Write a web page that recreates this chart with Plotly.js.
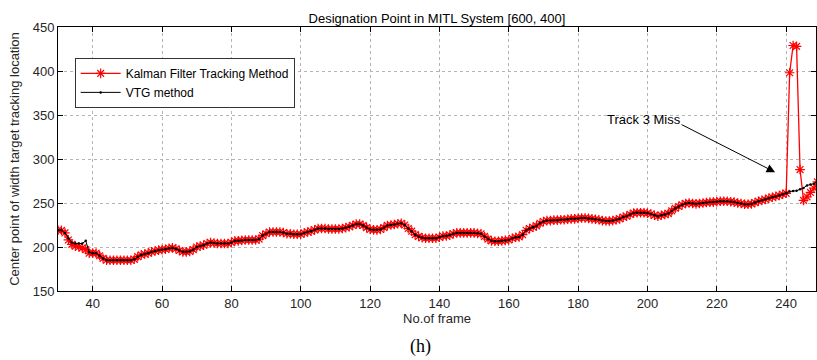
<!DOCTYPE html>
<html>
<head>
<meta charset="utf-8">
<script src="https://cdn.plot.ly/plotly-3.0.1.min.js"></script>
<style>html,body{margin:0;padding:0;background:#fff}#chart{width:817px;height:360px}</style>
</head>
<body>
<div id="chart"></div>
<script>
// frame numbers 30..249
var frames = [30,31,32,33,34,35,36,37,38,39,40,41,42,43,44,45,46,47,48,49,
50,51,52,53,54,55,56,57,58,59,60,61,62,63,64,65,66,67,68,69,
70,71,72,73,74,75,76,77,78,79,80,81,82,83,84,85,86,87,88,89,
90,91,92,93,94,95,96,97,98,99,100,101,102,103,104,105,106,107,108,109,
110,111,112,113,114,115,116,117,118,119,120,121,122,123,124,125,126,127,128,129,
130,131,132,133,134,135,136,137,138,139,140,141,142,143,144,145,146,147,148,149,
150,151,152,153,154,155,156,157,158,159,160,161,162,163,164,165,166,167,168,169,
170,171,172,173,174,175,176,177,178,179,180,181,182,183,184,185,186,187,188,189,
190,191,192,193,194,195,196,197,198,199,200,201,202,203,204,205,206,207,208,209,
210,211,212,213,214,215,216,217,218,219,220,221,222,223,224,225,226,227,228,229,
230,231,232,233,234,235,236,237,238,239,240,241,242,243,244,245,246,247,248,249];

// VTG method (black)
var vtg = [219,219,216,210,205,204,204,204,207,194,193,193,190,187,185,185,185,185,185,185,
185,185,186,189,191,192,193,194.5,195.5,196.5,197,197.5,198.5,199,198,196,194.5,194.5,195,197,
200,201,202,204,205,204.5,204,204,204,204,205,207,207,207.5,208,208,208,208,209,213,
215,217,217,217,217,216.5,215,215,214.5,214.5,214.5,216,217,218,219.5,221,221,221,220.5,220.5,
220.5,220.5,221,222,223,224.5,226,226,224.5,222,220,219.5,219.5,220,222,224.5,225,225.5,226.5,227,
225,221,218,214,212,210.5,210,210,210,210,211,212.5,212.5,213.5,215,216,216,216,216,216,
216,215.5,215,212,209,207,206.5,206.5,207,207.5,208,210,211,211.5,214,219,221,222.5,224,227,
229,230,230,230.5,230.5,231,231,231.5,232,232,232.5,233,233,232.5,232,231.5,231,230,229.5,229.5,
230,231,232,234,235,237,238.5,239,239,239,238.5,237.5,236,235,236,237,238,241,244,246,
248,249.5,250,249.5,249,249.5,250,250.5,251,251,251.5,252,252,252,251.5,251,250,249.5,248.5,248.5,
249,250.5,252,253,254,255.5,256.5,257.5,258.5,260,261,263,263.5,264,265.5,267,270,271,272,275];

// Kalman Filter Tracking Method (red)
var kalman = [219,219,216,208,203,201,200,199,197,193,193,193,190,187,185,185,185,185,185,185,
185,185,186,189,191,192,193,194.5,195.5,196.5,197,197.5,198.5,199,198,196,194.5,194.5,195,197,
200,201,202,204,205,204.5,204,204,204,204,205,207,207,207.5,208,208,208,208,209,213,
215,217,217,217,217,216.5,215,215,214.5,214.5,214.5,216,217,218,219.5,221,221,221,220.5,220.5,
220.5,220.5,221,222,223,224.5,226,226,224.5,222,220,219.5,219.5,220,222,224.5,225,225.5,226.5,227,
225,221,218,214,212,210.5,210,210,210,210,211,212.5,212.5,213.5,215,216,216,216,216,216,
216,215.5,215,212,209,207,206.5,206.5,207,207.5,208,210,211,211.5,214,219,221,222.5,224,227,
229,230,230,230.5,230.5,231,231,231.5,232,232,232.5,233,233,232.5,232,231.5,231,230,229.5,229.5,
230,231,232,234,235,237,238.5,239,239,239,238.5,237.5,236,235,236,237,238,241,244,246,
248,249.5,250,249.5,249,249.5,250,250.5,251,251,251.5,252,252,252,251.5,251,250,249.5,248.5,248.5,
249,250.5,252,253,254,255.5,256.5,257.5,258.5,260,261,398,429,428,288,253,257,262,267,274];

var xTicks = [40,60,80,100,120,140,160,180,200,220,240];
var yTicks = [150,200,250,300,350,400,450];

var fontFam = 'Liberation Sans, Arial, sans-serif';

var traces = [
  {x: frames, y: kalman, name: 'Kalman Filter Tracking Method', type: 'scatter', mode: 'lines+markers',
   line: {color: '#ff0000', width: 1.3},
   marker: {symbol: 'asterisk-open', size: 8, color: '#ff0000', line: {color: '#ff0000', width: 1.2}}},
  {x: frames, y: vtg, name: 'VTG method', type: 'scatter', mode: 'lines+markers',
   line: {color: '#000000', width: 1},
   marker: {symbol: 'circle', size: 2.5, color: '#000000'}}
];

var axisCommon = {
  showline: true, linecolor: '#000', linewidth: 1, mirror: 'ticks',
  ticks: 'inside', ticklen: 5, tickcolor: '#000',
  showgrid: true, gridcolor: '#b4b4b4', griddash: 'dot', gridwidth: 1,
  zeroline: false, tickfont: {family: fontFam, size: 13, color: '#262626'}
};

var layout = {
  width: 817, height: 360,
  margin: {l: 58, r: 1, t: 27, b: 69},
  paper_bgcolor: '#fff', plot_bgcolor: '#fff',
  title: {text: 'Designation Point in MITL System [600, 400]', font: {family: fontFam, size: 13, color: '#000'},
          x: 0.5, xref: 'paper', y: 0.95, yref: 'container', yanchor: 'middle'},
  xaxis: Object.assign({}, axisCommon, {range: [30, 248.6], tickvals: xTicks,
          title: {text: 'No.of frame', font: {family: fontFam, size: 13, color: '#262626'}, standoff: 4}}),
  yaxis: Object.assign({}, axisCommon, {range: [150, 450], tickvals: yTicks,
          title: {text: 'Center point of width target tracking location', font: {family: fontFam, size: 13, color: '#262626'}, standoff: 10}}),
  showlegend: true,
  legend: {x: 0.022, y: 0.883, xanchor: 'left', yanchor: 'top', bgcolor: '#fff',
           bordercolor: '#333', borderwidth: 1, font: {family: fontFam, size: 12, color: '#000'},
           tracegroupgap: 0, itemwidth: 40},
  annotations: [
    {x: 187.7, y: 345, xref: 'x', yref: 'y', text: 'Track 3 Miss', showarrow: false,
     xanchor: 'left', yanchor: 'middle', font: {family: fontFam, size: 13, color: '#000'}},
    {x: 236.8, y: 285, ax: 209.4, ay: 340, xref: 'x', yref: 'y', axref: 'x', ayref: 'y',
     text: '', showarrow: true, arrowhead: 2, arrowsize: 1.7, arrowwidth: 1, arrowcolor: '#000'},
    {x: 0.478, y: -0.212, xref: 'paper', yref: 'paper', text: '(h)', showarrow: false,
     xanchor: 'center', yanchor: 'middle', font: {family: 'Liberation Serif, Times New Roman, serif', size: 18, color: '#000'}}
  ]
};

Plotly.newPlot('chart', traces, layout, {displayModeBar: false, staticPlot: true});
</script>
</body>
</html>
